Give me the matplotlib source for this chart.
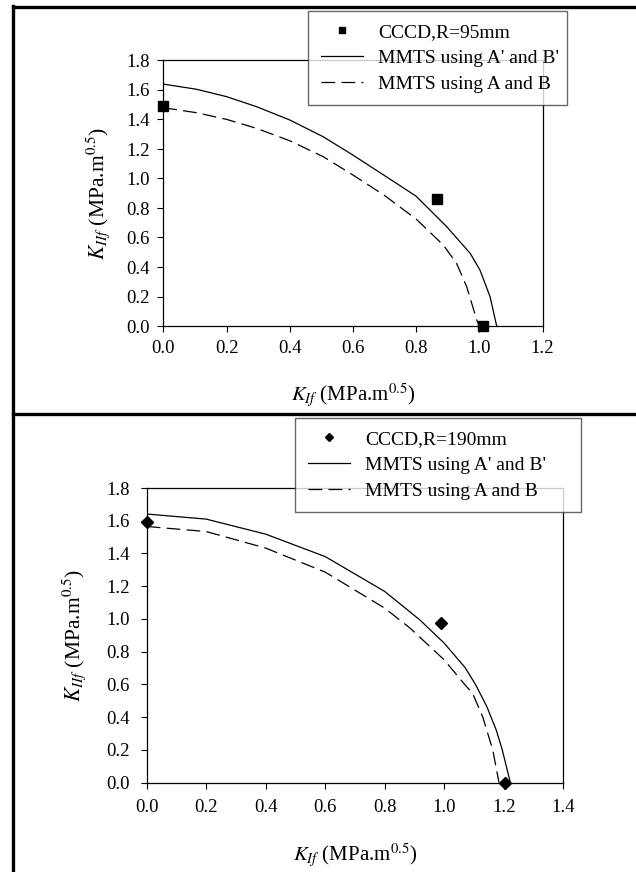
import numpy as np
import matplotlib
matplotlib.use('Agg')
import matplotlib.pyplot as plt
from matplotlib.lines import Line2D

plt.rcParams['font.family'] = ['Liberation Serif', 'DejaVu Serif']
plt.rcParams['mathtext.fontset'] = 'stix'

# --- datos panel superior (R=95mm) ---
kI_95 = [0.0, 0.866, 1.011]
kII_95 = [1.49, 0.86, 0.0]
x_ab1_95 = [0.0, 0.105, 0.2, 0.295, 0.4, 0.506, 0.6, 0.7, 0.8, 0.897, 0.971, 1.002, 1.034, 1.055]
y_ab1_95 = [1.64, 1.605, 1.555, 1.487, 1.397, 1.283, 1.159, 1.02, 0.88, 0.673, 0.493, 0.38, 0.199, 0.0]
x_ab_95 = [0.0, 0.105, 0.2, 0.295, 0.4, 0.506, 0.6, 0.7, 0.8, 0.886, 0.928, 0.96, 0.992, 1.0]
y_ab_95 = [1.48, 1.446, 1.401, 1.34, 1.256, 1.148, 1.024, 0.885, 0.725, 0.549, 0.425, 0.267, 0.04, 0.0]

# --- datos panel inferior (R=190mm) ---
kI_190 = [0.0, 0.989, 1.204]
kII_190 = [1.592, 0.978, 0.0]
x_ab1_190 = [0.0, 0.2, 0.4, 0.6, 0.8, 0.918, 1.0, 1.07, 1.105, 1.143, 1.175, 1.195, 1.222]
y_ab1_190 = [1.641, 1.61, 1.518, 1.381, 1.168, 0.994, 0.852, 0.703, 0.60, 0.465, 0.32, 0.2, 0.0]
x_ab_190 = [0.0, 0.2, 0.4, 0.6, 0.8, 0.885, 1.0, 1.07, 1.095, 1.129, 1.163, 1.184]
y_ab_190 = [1.565, 1.534, 1.433, 1.286, 1.066, 0.944, 0.75, 0.597, 0.546, 0.403, 0.2, 0.0]

W, H = 636, 872
fig = plt.figure(figsize=(W / 100, H / 100), dpi=100)


def px_axes(l, t, r, b):
    return fig.add_axes([l / W, 1 - b / H, (r - l) / W, (b - t) / H])


def panel(ax, xs, ys, x1, y1, x2, y2, marker, ms, mlabel, xmax, leg_box, tpad, ylpad, xlpad):
    ax.plot(xs, ys, ls='none', marker=marker, color='black', mec='black',
            ms=ms, label=mlabel, clip_on=False, zorder=5)
    ax.plot(x1, y1, color='black', lw=0.9, label="MMTS using A' and B'")
    ax.plot(x2, y2, color='black', lw=0.9, dashes=(11, 5), label='MMTS using A and B')
    ax.set_xlim(0, xmax)
    ax.set_ylim(0, 1.8)
    ax.set_xticks(np.arange(0, xmax + 0.01, 0.2))
    ax.set_yticks(np.arange(0, 1.81, 0.2))
    ax.xaxis.set_major_formatter(plt.FormatStrFormatter('%.1f'))
    ax.yaxis.set_major_formatter(plt.FormatStrFormatter('%.1f'))
    ax.tick_params(direction='out', length=4, width=0.8, labelsize=13.5, pad=tpad)
    for s in ax.spines.values():
        s.set_linewidth(0.9)
    ax.set_xlabel(r'$K_{If}$ (MPa.m$^{0.5}$)', fontsize=15, labelpad=xlpad)
    ax.set_ylabel(r'$K_{IIf}$ (MPa.m$^{0.5}$)', fontsize=15.5, labelpad=ylpad)
    l, t, r, b = leg_box
    leg = ax.legend(loc='upper left', bbox_to_anchor=(l / W, 1 - b / H, (r - l) / W, (b - t) / H),
                    bbox_transform=fig.transFigure, mode='expand', fontsize=14,
                    frameon=True, fancybox=False, handlelength=2.2, handletextpad=0.75,
                    borderpad=0.65, labelspacing=0.42, borderaxespad=0, markerscale=0.65)
    leg.get_frame().set_edgecolor('#404040')
    leg.get_frame().set_linewidth(1.0)
    leg.set_zorder(10)


ax1 = px_axes(163.3, 60.5, 542.5, 326)
panel(ax1, kI_95, kII_95, x_ab1_95, y_ab1_95, x_ab_95, y_ab_95,
      's', 7.7, 'CCCD,R=95mm', 1.2, (308, 11, 567, 105), 6, 10, 18)

ax2 = px_axes(146.7, 488, 563.3, 782.7)
panel(ax2, kI_190, kII_190, x_ab1_190, y_ab1_190, x_ab_190, y_ab_190,
      'D', 6, 'CCCD,R=190mm', 1.4, (295, 418, 581, 523), 8, 13, 18)

# marco de la figura
def fline(x0, y0, x1, y1, lw):
    fig.add_artist(Line2D([x0 / W, x1 / W], [1 - y0 / H, 1 - y1 / H], color='black', lw=lw))

fline(13, 7.5, 636, 7.5, 2.4)
fline(13, 414, 636, 414, 2.4)
fline(13, 6.5, 13, 872, 2.4)

fig.savefig('out.png', dpi=100)
